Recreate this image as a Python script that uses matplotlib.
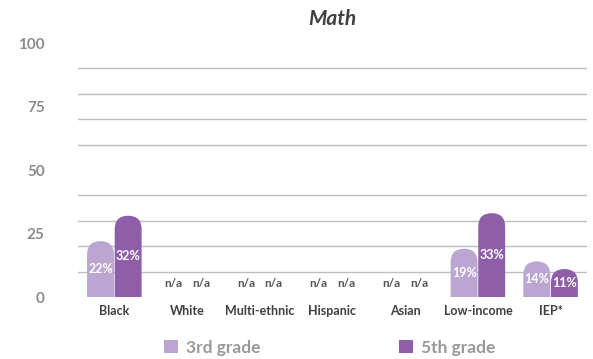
import matplotlib.pyplot as plt
from matplotlib.patches import FancyBboxPatch, Patch
from matplotlib.ticker import MultipleLocator

categories = ['Black', 'White', 'Multi-ethnic', 'Hispanic', 'Asian', 'Low-income', 'IEP*']
grade3 = [22, None, None, None, None, 19, 14]
grade5 = [32, None, None, None, None, 33, 11]
series_names = ['3rd grade', '5th grade']

colors = ['#bba5d1', '#8e5fa8']
plt.rcParams['font.family'] = ['Lato', 'DejaVu Sans']

fig = plt.figure(figsize=(5.93, 3.59), dpi=100)
ax = fig.add_axes([0.1315, 0.1727, 0.8583, 0.7075])
ax.set_xlim(-0.5, len(categories) - 0.5)
ax.set_ylim(0, 100)

# px per data unit, used to keep the bar caps circular
bbox = ax.get_window_extent()
px_x = bbox.width / (len(categories))
px_y = bbox.height / 100.0
aspect = px_x / px_y

width = 0.37
offsets = [-0.19, 0.19]
for series, off, col in zip([grade3, grade5], offsets, colors):
    for i, v in enumerate(series):
        xc = i + off
        if v is None:
            ax.text(xc, 5.2, 'n/a', ha='center', va='center', fontsize=8.5,
                    color='#555555', fontweight='bold')
            continue
        r = width / 2
        bar = FancyBboxPatch((xc - width / 2, -20), width, v + 20,
                             boxstyle=f'round,pad=0,rounding_size={r}',
                             mutation_aspect=aspect, facecolor=col,
                             edgecolor='none', zorder=3)
        ax.add_patch(bar)
        ax.text(xc, v / 2, f'{v}%', ha='center', va='center', fontsize=9,
                color='white', fontweight='bold', zorder=4)

# gridlines every 10, labels every 25
ax.yaxis.set_major_locator(MultipleLocator(25))
ax.yaxis.set_minor_locator(MultipleLocator(10))
ax.grid(which='minor', axis='y', color='#bebebe', linewidth=1.0, zorder=0)
ax.grid(which='major', visible=False)
ax.set_axisbelow(True)
ax.tick_params(axis='y', which='both', length=0, pad=24, labelsize=11,
               labelcolor='#8c8c8c')
for lbl in ax.get_yticklabels():
    lbl.set_fontweight('bold')

ax.set_xticks(range(len(categories)))
ax.set_xticklabels(categories, fontsize=9, color='#404040', fontweight='bold')
ax.tick_params(axis='x', length=0, pad=6)

for s in ax.spines.values():
    s.set_visible(False)

ax.set_title('Math', fontsize=15, fontweight='bold', fontstyle='italic',
             color='#404040', pad=13)

handles = [Patch(facecolor=c, edgecolor='none') for c in colors]
leg = fig.legend(handles, series_names, loc='center', bbox_to_anchor=(0.556, 0.031),
                 ncol=2, frameon=False, fontsize=12.5, handlelength=0.8,
                 handleheight=0.8, handletextpad=0.45, columnspacing=8.0)
for t in leg.get_texts():
    t.set_color('#999999')
    t.set_fontweight('bold')

fig.savefig('out.png', dpi=100)
